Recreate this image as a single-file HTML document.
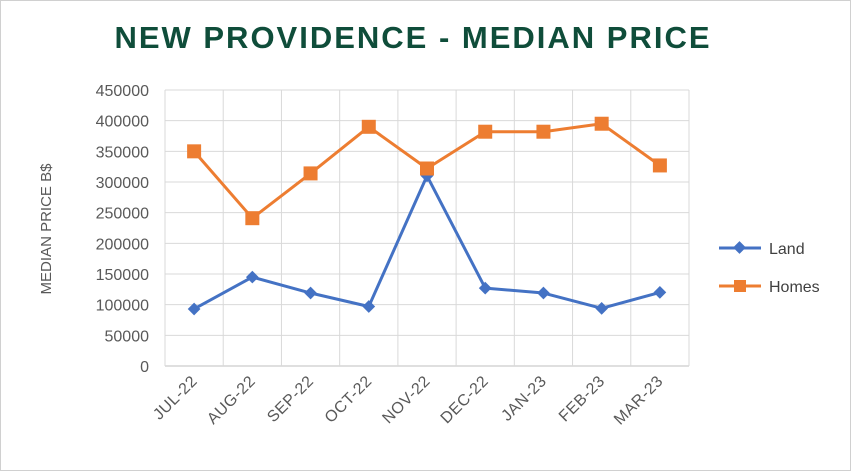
<!DOCTYPE html>
<html><head><meta charset="utf-8"><style>
html,body{margin:0;padding:0;background:#fff}
#c{width:851px;height:471px;position:relative;box-sizing:border-box;border:1px solid #d0d0d0;font-family:"Liberation Sans",sans-serif}
</style></head><body>
<div id="c">
<svg id="s" width="849" height="469">
<text x="412" y="47" text-anchor="middle" font-size="31" font-weight="bold" fill="#0f4d3a" letter-spacing="2">NEW PROVIDENCE - MEDIAN PRICE</text>
<text transform="translate(50,228) rotate(-90)" text-anchor="middle" font-size="15" fill="#595959">MEDIAN PRICE B$</text>
<g id="grid"></g><g id="ylab"></g><g id="xlab"></g><g id="series"></g>
<g>
<g><line x1="718" y1="247" x2="760" y2="247" stroke="#4472c4" stroke-width="3"/><rect x="734" y="242" width="9" height="9" fill="#4472c4" transform="rotate(45 738.5 246.5)"/><text x="768" y="253" font-size="16" fill="#404040">Land</text></g>
<g><line x1="718" y1="285" x2="760" y2="285" stroke="#ed7d31" stroke-width="3"/><rect x="733" y="279" width="12" height="12" fill="#ed7d31"/><text x="768" y="291" font-size="16" fill="#404040">Homes</text></g>
</g>
</svg></div>
<script>
const categories=["JUL-22","AUG-22","SEP-22","OCT-22","NOV-22","DEC-22","JAN-23","FEB-23","MAR-23"];
const landValues=[93000,145000,119000,97000,310000,127000,119000,94000,120000];
const homesValues=[350000,241000,314000,390000,322000,382000,382000,395000,327000];
const yTicks=[0,50000,100000,150000,200000,250000,300000,350000,400000,450000];
const NS="http://www.w3.org/2000/svg";
const L=164,R=688,T=89,B=365,yMax=450000;
const bw=(R-L)/categories.length;
const xc=i=>L+bw*(i+0.5);
const y=v=>B-(v/yMax)*(B-T);
function mk(tag,attrs,parent){const e=document.createElementNS(NS,tag);for(const k in attrs)e.setAttribute(k,attrs[k]);parent.appendChild(e);return e;}
const grid=document.getElementById('grid'),ylab=document.getElementById('ylab'),xlab=document.getElementById('xlab'),ser=document.getElementById('series');
yTicks.forEach(t=>{
 const l=mk('line',{x1:L,x2:R,y1:y(t),y2:y(t),stroke:t===0?'#bfbfbf':'#d9d9d9','stroke-width':1},grid);
 
 
 const tx=mk('text',{x:L-16,y:y(t)+6,'text-anchor':'end','font-size':16,fill:'#595959'},ylab);
 tx.textContent=t;
 
 
});
for(let i=0;i<=categories.length;i++){
 const l=mk('line',{x1:L+bw*i,x2:L+bw*i,y1:T,y2:B,stroke:'#d9d9d9','stroke-width':1},grid);
 
 
}
categories.forEach((c,i)=>{
 const tx=mk('text',{x:xc(i)+4,y:B+16,'text-anchor':'end','font-size':16,fill:'#595959','letter-spacing':'0.5',transform:`rotate(-45 ${xc(i)+4} ${B+16})`},xlab);
 tx.textContent=c;
 
 
});
function line(vals,color,name){
 const p=mk('polyline',{points:vals.map((v,i)=>xc(i)+','+y(v)).join(' '),fill:'none',stroke:color,'stroke-width':3,'stroke-linejoin':'round'},ser);
 
 
}
line(landValues,'#4472c4','land');
line(homesValues,'#ed7d31','homes');
landValues.forEach((v,i)=>{
 const r=mk('rect',{x:xc(i)-4.5,y:y(v)-4.5,width:9,height:9,fill:'#4472c4',transform:`rotate(45 ${xc(i)} ${y(v)})`},ser);
 
 
});
homesValues.forEach((v,i)=>{
 const r=mk('rect',{x:xc(i)-7,y:y(v)-7,width:14,height:14,fill:'#ed7d31'},ser);
 
 
});
</script>
</body></html>
